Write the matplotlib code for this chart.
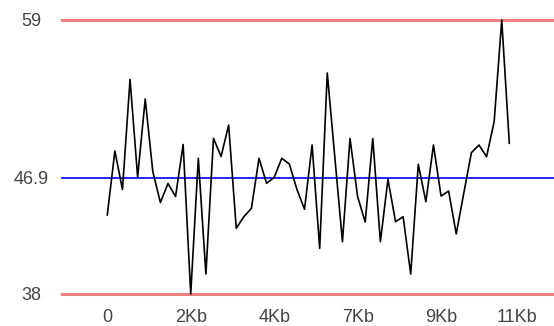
import matplotlib
matplotlib.use("Agg")
import matplotlib.pyplot as plt

# one reading every 200 bytes
positions = [i * 200 for i in range(54)]
values = [
    44.06, 48.96, 46.01, 54.45, 46.97, 52.95, 47.39, 45.01, 46.47, 45.47,
    49.46, 38.00, 48.40, 39.53, 49.93, 48.54, 50.95, 43.04, 43.92, 44.57,
    48.40, 46.48, 46.94, 48.40, 47.96, 46.02, 44.49, 49.42, 41.50, 54.94,
    48.46, 42.01, 49.92, 45.46, 43.52, 49.92, 42.01, 46.79, 43.54, 43.92,
    39.53, 47.94, 45.07, 49.42, 45.51, 45.89, 42.60, 45.74, 48.83, 49.42,
    48.52, 51.21, 59.00, 49.55,
]

ref_values = [38, 46.9, 59]
ref_labels = ["38", "46.9", "59"]
ref_colors = ["#f08080", "#0000ff", "#f08080"]
ref_widths = [2.2, 1.2, 2.2]

xtick_pos = [0, 2200, 4400, 6600, 8800, 10800]
xtick_labels = ["0", "2Kb", "4Kb", "7Kb", "9Kb", "11Kb"]

plt.rcParams["font.family"] = ["Liberation Sans", "DejaVu Sans"]

fig = plt.figure(figsize=(5.54, 3.26), dpi=100)
ax = fig.add_axes([62 / 554, 32 / 326, 492 / 554, 274 / 326])

for v, c, w in zip(ref_values, ref_colors, ref_widths):
    ax.axhline(v, color=c, linewidth=w, clip_on=False, zorder=1)

ax.plot(positions, values, color="black", linewidth=1.2, clip_on=False, zorder=2)

ax.set_xlim(-1194, 11778)
ax.set_ylim(38, 59)

ax.set_xticks(xtick_pos)
ax.set_xticklabels(xtick_labels)
ax.set_yticks(ref_values)
ax.set_yticklabels(ref_labels)

ax.tick_params(axis="both", length=0, labelsize=13, colors="#444444")
ax.tick_params(axis="x", pad=11)
ax.tick_params(axis="y", pad=22)
for lab in ax.get_yticklabels():
    lab.set_horizontalalignment("center")

for s in ax.spines.values():
    s.set_visible(False)

fig.savefig("out.png", dpi=100)
